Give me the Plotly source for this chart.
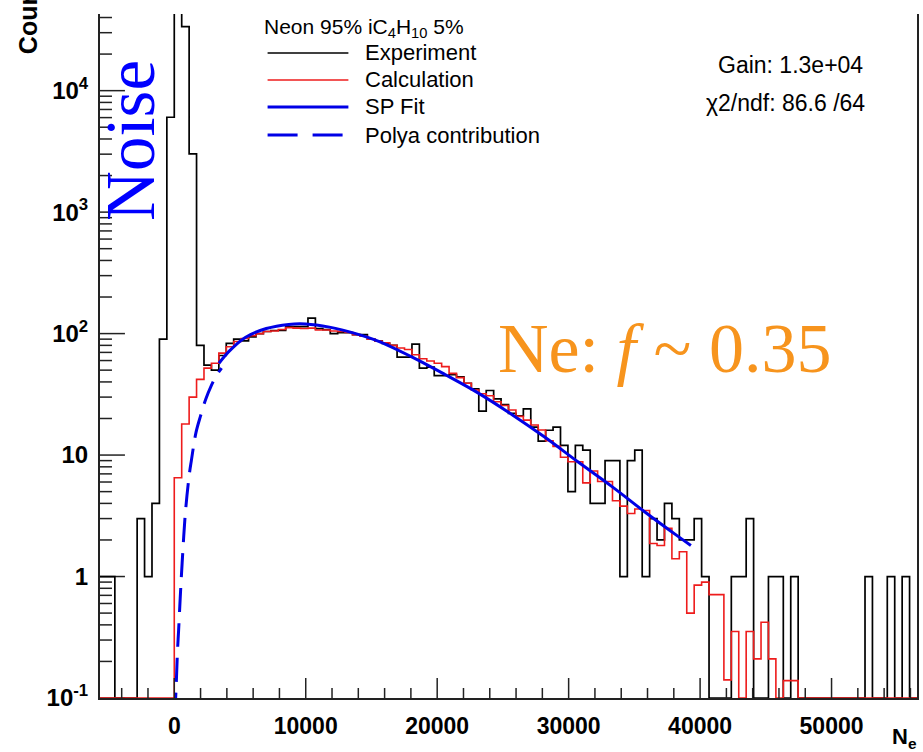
import math
import plotly.graph_objects as go

# ---------------- data ----------------
# Histogram binning (number of electrons)
BIN_LO = -5650.0
BIN_W = 565.0
N_BINS = 110

# Experiment counts per bin
experiment = [
    1, 1, 0, 0, 0, 3, 1, 4, 90, 6040,
    48000, 33650, 3013, 80, 55, 50, 66, 83, 90, 87,
    94, 100, 104, 106, 106, 114, 114, 114, 134, 110,
    108, 100, 102, 102, 98, 98, 90, 87, 83, 80,
    64, 64, 82, 52, 53, 45, 45, 46, 44, 39,
    35, 23, 34, 29, 26, 22, 21, 24, 17, 13,
    16, 17, 12, 5, 12, 11, 4, 4, 9, 9,
    1, 9, 11, 1, 3, 2, 4, 3, 2, 2,
    3, 1, 0, 0, 0, 1, 1, 3, 0, 0,
    1, 1, 0, 1, 0, 0, 0, 0, 0, 0,
    0, 0, 0, 1, 0, 0, 1, 0, 1, 0,
]

# Calculated spectrum per bin
calculation = [
    0, 0, 0, 0, 0, 0, 0, 0, 0, 0,
    6.5, 18, 30, 42, 52, 57, 69, 78, 86, 91,
    96, 100, 104, 105, 108, 112, 111, 110, 111, 107,
    107, 105, 104, 102, 98, 95, 90, 87, 84, 80,
    76, 74, 67, 62, 59.5, 57, 53.5, 47, 43.4, 39,
    34.3, 32, 30.8, 27.5, 25.6, 23.5, 20.8, 19.4, 17.7, 16.1,
    13.1, 11.8, 9.6, 8.8, 8.8, 5.9, 7.4, 6.05, 6.05, 4.2,
    3.8, 3.3, 3.6, 3.5, 1.87, 1.8, 2.5, 1.4, 1.6, 0.5,
    0.85, 0.9, 0.71, 0.71, 0.141, 0.353, 0, 0.353, 0.21, 0.42,
    0.21, 0, 0.139, 0.139, 0, 0, 0, 0, 0, 0,
    0, 0, 0, 0, 0, 0, 0, 0, 0, 0,
]

# Single-photoelectron fit curve
sp_fit_x = [3400, 4200, 5400, 7000, 8700, 10000, 11800, 13800, 15600, 18100,
            20600, 23100, 25700, 28200, 30700, 33300, 35800, 38300, 39300]
sp_fit_y = [57, 72, 93, 110, 119, 120, 113, 100, 86, 64,
            46, 32.5, 21.5, 14, 8.8, 5.5, 3.4, 2.15, 1.8]

# Polya contribution at low N_e
polya_x = [40, 130, 250, 330, 450, 600, 850, 1150, 1300, 1650,
           2000, 2400, 2800, 3200, 3600]
polya_y = [0.07, 0.115, 0.25, 0.36, 0.66, 1.3, 3.4, 7.0, 9.0, 15.3,
           21, 29, 37, 45, 52]

y_tick_vals = [0.1, 1, 10, 100, 1000, 10000]
y_tick_text = ["10<sup>-1</sup>", "1", "10", "10<sup>2</sup>", "10<sup>3</sup>", "10<sup>4</sup>"]
y_minor_vals = [m * d for d in y_tick_vals for m in range(2, 10)]
x_tick_vals = [0, 10000, 20000, 30000, 40000, 50000]
x_minor_vals = [v for v in range(-4000, 56001, 2000) if v % 10000 != 0]

legend_header = "Neon 95% iC<sub>4</sub>H<sub>10</sub> 5%"
legend_labels = ["Experiment", "Calculation", "SP Fit", "Polya contribution"]
stat_lines = ["Gain: 1.3e+04", "\u03c72/ndf: 86.6 /64"]

# ---------------- geometry ----------------
W, H = 923, 752
ML, MR, MT, MB = 100, 4, 14, 54
PW, PH = W - ML - MR, H - MT - MB
X_RANGE = [BIN_LO, BIN_LO + N_BINS * BIN_W]
Y_LOG_RANGE = [-1.0, 4.631]
FLOOR = 10 ** Y_LOG_RANGE[0]
X_UNITS_PER_PX = (X_RANGE[1] - X_RANGE[0]) / PW


def px_x(px):
    return (px - ML) / PW


def px_y(py):
    return (H - MB - py) / PH


edges = [BIN_LO + i * BIN_W for i in range(N_BINS + 1)]


def step_values(vals):
    v = [c if c > FLOOR else FLOOR for c in vals]
    return v + [v[-1]]


SANS = "Liberation Sans, Arial, sans-serif"
SERIF = "Liberation Serif, Times New Roman, serif"
BLUE = "#0000e6"
RED = "#ee1c1c"
AXIS = "#222222"

fig = go.Figure()

# inward tick marks on the left (log) frame edge
tick_x, tick_y = [], []
for vals, length in ((y_tick_vals, 25), (y_minor_vals, 12)):
    for v in vals:
        if Y_LOG_RANGE[0] <= math.log10(v) < Y_LOG_RANGE[1]:
            tick_x += [X_RANGE[0], X_RANGE[0] + length * X_UNITS_PER_PX, None]
            tick_y += [v, v, None]
fig.add_trace(go.Scatter(
    x=tick_x, y=tick_y, mode="lines", line=dict(color=AXIS, width=1.5),
    hoverinfo="skip", connectgaps=False, name="ticks"))

fig.add_trace(go.Scatter(
    x=edges, y=step_values(experiment), mode="lines",
    line=dict(color="black", width=1.7, shape="hv"), name="Experiment"))
fig.add_trace(go.Scatter(
    x=edges, y=step_values(calculation), mode="lines",
    line=dict(color=RED, width=1.6, shape="hv"), name="Calculation"))
fig.add_trace(go.Scatter(
    x=polya_x, y=polya_y, mode="lines",
    line=dict(color=BLUE, width=3, dash="24px,11px", shape="spline"),
    name="Polya contribution"))
fig.add_trace(go.Scatter(
    x=sp_fit_x, y=sp_fit_y, mode="lines",
    line=dict(color=BLUE, width=3, shape="spline"), name="SP Fit"))

shapes = []


# inward tick marks along the bottom frame edge
def x_tick(v, length):
    shapes.append(dict(type="line", xref="x", yref="paper", x0=v, x1=v,
                       y0=0, y1=length / PH, line=dict(color=AXIS, width=1.5)))


for v in x_tick_vals:
    x_tick(v, 20)
for v in x_minor_vals:
    if X_RANGE[0] < v < X_RANGE[1]:
        x_tick(v, 10)

# legend keys
legend_rows_py = [53, 80, 107, 135]
key_styles = [
    dict(color="black", width=1.4),
    dict(color=RED, width=1.4),
    dict(color=BLUE, width=3),
    dict(color=BLUE, width=3, dash="30px,15px"),
]
for py, st in zip(legend_rows_py, key_styles):
    shapes.append(dict(type="line", xref="paper", yref="paper",
                       x0=px_x(268), x1=px_x(349), y0=px_y(py), y1=px_y(py),
                       line=st))

annotations = [
    dict(text=legend_header, x=px_x(262), y=px_y(28), xanchor="left", yanchor="middle",
         font=dict(family=SANS, size=21, color="black")),
]
for py, lab in zip(legend_rows_py, legend_labels):
    annotations.append(dict(text=lab, x=px_x(364), y=px_y(py), xanchor="left",
                            yanchor="middle", font=dict(family=SANS, size=22, color="black")))
annotations.append(dict(text=stat_lines[0], x=px_x(792), y=px_y(65), xanchor="center",
                        yanchor="middle", font=dict(family=SANS, size=23, color="black")))
annotations.append(dict(text=stat_lines[1], x=px_x(787), y=px_y(103), xanchor="center",
                        yanchor="middle", font=dict(family=SANS, size=23, color="black")))
# big labels
annotations.append(dict(text="Noise", x=px_x(131), y=px_y(140), textangle=-90,
                        xanchor="center", yanchor="middle",
                        font=dict(family=SERIF, size=69, color="#0000ff")))
annotations.append(dict(text="Ne: <i>f</i> ~ 0.35", x=px_x(497), y=px_y(348),
                        xanchor="left", yanchor="middle",
                        font=dict(family=SERIF, size=70, color="#f7941d")))
# axis titles
annotations.append(dict(text="<b>N<sub>e</sub></b>", x=px_x(906), y=px_y(738),
                        xanchor="center", yanchor="middle",
                        font=dict(family=SANS, size=22, color="black")))
annotations.append(dict(text="<b>Counts</b>", x=px_x(28), y=px_y(56), textangle=-90,
                        xanchor="center", yanchor="bottom",
                        font=dict(family=SANS, size=25, color="black")))
for a in annotations:
    a.setdefault("xref", "paper")
    a.setdefault("yref", "paper")
    a.setdefault("showarrow", False)

fig.update_layout(
    width=W, height=H,
    margin=dict(l=ML, r=MR, t=MT, b=MB, pad=0),
    paper_bgcolor="white", plot_bgcolor="white",
    showlegend=False,
    shapes=shapes, annotations=annotations,
    xaxis=dict(
        range=X_RANGE,
        showgrid=False, zeroline=False,
        showline=True, linecolor=AXIS, linewidth=2,
        ticks="", tickmode="array", tickvals=x_tick_vals,
        ticktext=[str(v) for v in x_tick_vals],
        tickfont=dict(family=SANS, size=23, color="black", weight="bold"),
        ticklabelstandoff=6,
    ),
    yaxis=dict(
        type="log", range=Y_LOG_RANGE,
        showgrid=False, zeroline=False,
        showline=True, linecolor=AXIS, linewidth=2, mirror=True,
        ticks="", tickmode="array", tickvals=y_tick_vals, ticktext=y_tick_text,
        tickfont=dict(family=SANS, size=24, color="black", weight="bold"),
        ticklabelstandoff=5,
    ),
)

fig.write_html("out.html")
